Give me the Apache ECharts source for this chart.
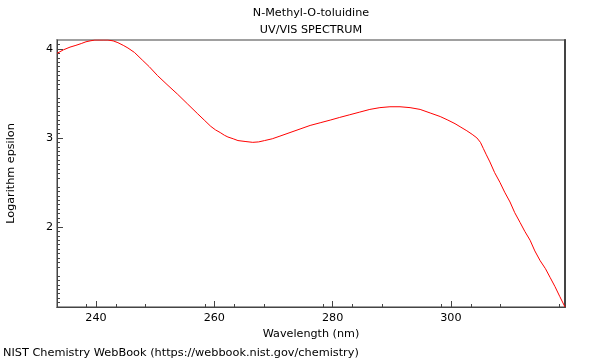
<!DOCTYPE html>
<html><head><meta charset="utf-8">
<script src="https://cdn.jsdelivr.net/npm/echarts@6/dist/echarts.min.js"></script>
<style>html,body{margin:0;padding:0;background:#fff}#c{width:600px;height:360px}</style>
</head><body><div id="c"></div>
<script>
var wavelengths = [233.4, 234.5, 235.6, 236.6, 237.5, 238.3, 239.0, 239.8, 240.5, 241.3, 242.0, 242.9, 243.7, 244.6, 245.4, 246.5, 247.9, 249.0, 250.4, 252.0, 253.8, 255.5, 257.2, 258.3, 259.4, 260.2, 261.0, 261.7, 262.3, 263.2, 264.0, 265.2, 266.5, 267.5, 268.5, 269.8, 271.1, 272.8, 274.5, 276.2, 277.9, 279.6, 281.2, 282.9, 284.6, 286.3, 288.0, 289.7, 291.4, 293.1, 294.8, 296.5, 298.2, 299.5, 300.7, 301.7, 302.7, 303.6, 304.4, 305.0, 305.5, 306.0, 306.6, 307.4, 308.3, 309.1, 310.0, 310.8, 311.7, 312.5, 313.4, 314.2, 315.1, 316.0, 316.8, 317.6, 318.4, 319.3];
var logEps = [3.95, 3.99, 4.02, 4.04, 4.06, 4.08, 4.09, 4.10, 4.10, 4.10, 4.10, 4.09, 4.07, 4.04, 4.01, 3.96, 3.87, 3.80, 3.70, 3.60, 3.49, 3.38, 3.27, 3.20, 3.13, 3.09, 3.06, 3.03, 3.01, 2.99, 2.97, 2.96, 2.95, 2.955, 2.97, 2.99, 3.02, 3.06, 3.10, 3.14, 3.17, 3.20, 3.23, 3.26, 3.29, 3.32, 3.34, 3.35, 3.35, 3.34, 3.32, 3.28, 3.24, 3.20, 3.16, 3.12, 3.08, 3.04, 3.00, 2.95, 2.88, 2.81, 2.73, 2.61, 2.50, 2.39, 2.28, 2.16, 2.05, 1.95, 1.85, 1.73, 1.62, 1.53, 1.43, 1.33, 1.22, 1.10];
var titleText = "N-Methyl-O-toluidine";
var subtitleText = "UV/VIS SPECTRUM";
var footerText = "NIST Chemistry WebBook (https://webbook.nist.gov/chemistry)";
var xTicks = [240, 260, 280, 300];
var yTicks = [2, 3, 4];

var pts = wavelengths.map(function(w, i){ return [w, logEps[i]]; });
var chart = echarts.init(document.getElementById('c'));
var font = 'DejaVu Sans';
var axisCol = '#444';
chart.setOption({
  animation: false,
  backgroundColor: '#fff',
  title: [
    {text: titleText, left: 311, textAlign: 'center', top: 8, padding: 0, textStyle: {fontFamily: font, fontSize: 11.2, fontWeight: 'normal', color: '#000'}},
    {text: subtitleText, left: 311, textAlign: 'center', top: 25, padding: 0, textStyle: {fontFamily: font, fontSize: 11.2, fontWeight: 'normal', color: '#000'}},
    {text: footerText, left: 3, top: 348, padding: 0, textStyle: {fontFamily: font, fontSize: 11.3, fontWeight: 'normal', color: '#000'}}
  ],
  grid: {left: 57, right: 35, top: 40, bottom: 53, show: true, borderColor: '#a0a0a0', borderWidth: 2, containLabel: false, outerBoundsMode: 'none'},
  xAxis: {
    type: 'value', min: 233.4, max: 319.3, interval: 20,
    name: 'Wavelength (nm)', nameLocation: 'middle', nameGap: 19,
    nameTextStyle: {fontFamily: font, fontSize: 11.2, color: '#000'},
    axisLine: {show: true, onZero: false, lineStyle: {color: axisCol}},
    axisTick: {show: true, inside: true, length: 6, lineStyle: {color: axisCol}, customValues: xTicks},
    minorTick: {show: true, splitNumber: 4, length: 3, lineStyle: {color: axisCol}},
    axisLabel: {fontFamily: font, fontSize: 11.2, color: '#000', margin: 6, customValues: xTicks},
    splitLine: {show: false}
  },
  yAxis: [{
    type: 'value', min: 1.1, max: 4.1,
    name: 'Logarithm epsilon', nameLocation: 'middle', nameGap: 40,
    nameTextStyle: {fontFamily: font, fontSize: 11.2, color: '#000'},
    axisLine: {show: true, onZero: false, lineStyle: {color: axisCol}},
    axisTick: {show: true, inside: true, length: 6, lineStyle: {color: axisCol}, customValues: yTicks},
    minorTick: {show: true, splitNumber: 10, length: 3, lineStyle: {color: axisCol}},
    axisLabel: {fontFamily: font, fontSize: 11.2, color: '#000', margin: 4, customValues: yTicks},
    splitLine: {show: false}
  }, {
    type: 'value', min: 1.1, max: 4.1, position: 'right',
    axisLine: {show: true, onZero: false, lineStyle: {color: axisCol, width: 2}},
    axisTick: {show: false}, axisLabel: {show: false}, splitLine: {show: false}
  }],
  series: [{
    type: 'line', data: pts, showSymbol: false,
    lineStyle: {color: '#ff0000', width: 1}
  }]
});
</script></body></html>
